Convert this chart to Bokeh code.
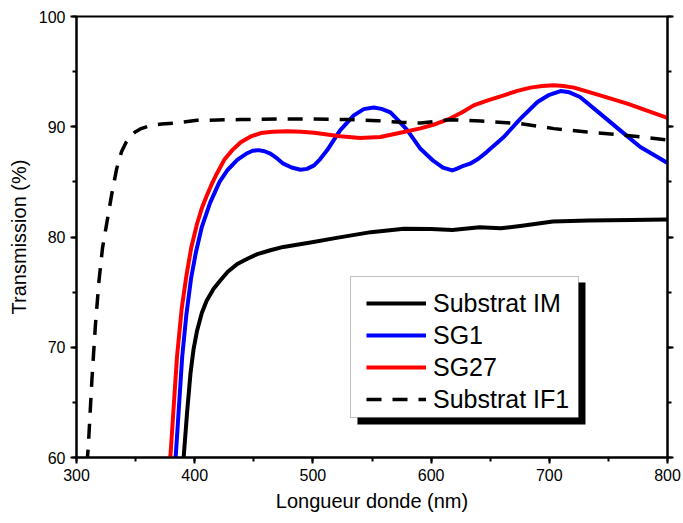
from bokeh.plotting import figure
from bokeh.models import (LinearAxis, Legend, LegendItem, BoxAnnotation, Range1d,
                          CustomJSTickFormatter, FixedTicker)
from bokeh.embed import file_html
from bokeh.resources import INLINE

# ---- data ----
wl_im = [388, 390.8, 393.5, 396.4, 399, 402, 406, 410, 416, 422, 428, 436, 445, 453,
         464, 475, 498, 520, 549, 577, 600, 618, 641, 659, 677, 703, 733, 769, 800]
t_im = [57, 60.2, 64, 67.6, 69.8, 71.5, 73.1, 74.2, 75.3, 76.1, 76.85, 77.55, 78.05,
        78.45, 78.8, 79.1, 79.5, 79.92, 80.44, 80.75, 80.72, 80.64, 80.88, 80.79,
        81.03, 81.4, 81.49, 81.55, 81.58]

wl_sg1 = [381, 384, 389.4, 393, 397, 401, 406, 413, 421, 428, 436, 444.4, 449, 454,
          459, 464, 470, 475, 482, 489.5, 495, 501, 506, 512, 523, 534.6, 543, 551.5,
          558, 565.6, 572, 580, 591, 602, 610, 618, 622, 626, 633, 640, 647, 661.5,
          675.6, 690, 700, 709.5, 717, 726, 743, 760, 777, 794, 800]
t_sg1 = [57, 60.2, 69.1, 73, 76.3, 78.6, 80.9, 83.1, 85.0, 86.1, 87.0, 87.6, 87.82,
         87.88, 87.78, 87.56, 87.1, 86.65, 86.3, 86.1, 86.18, 86.5, 87.05, 87.86,
         89.67, 91.03, 91.6, 91.75, 91.62, 91.3, 90.6, 89.67, 88.0, 86.9, 86.3, 86.04,
         86.2, 86.4, 86.65, 87.1, 87.7, 89.07, 90.74, 92.24, 92.9, 93.24, 93.12, 92.7,
         91.19, 89.67, 88.16, 87.1, 86.7]

wl_sg27 = [376, 379.5, 385, 389, 393, 397, 402, 406, 410, 414, 418, 425, 432, 439, 447,
           456, 466, 478, 490, 501, 512, 523, 540, 557, 574, 591, 604, 616, 626, 636,
           648, 661.5, 673, 684, 694, 704, 712, 721, 743, 766, 788, 800]
t_sg27 = [57, 60.2, 69.1, 73.5, 76.5, 79.0, 81.2, 82.6, 83.7, 84.7, 85.6, 87.0, 87.9,
          88.6, 89.1, 89.43, 89.55, 89.6, 89.55, 89.45, 89.3, 89.13, 88.98, 89.07,
          89.45, 89.85, 90.25, 90.74, 91.3, 91.94, 92.4, 92.85, 93.25, 93.55, 93.7,
          93.76, 93.7, 93.55, 92.85, 92.1, 91.25, 90.8]

wl_if1 = [307, 310, 313, 316, 319, 322, 326, 330, 334, 338, 342, 346, 350, 354, 362,
          372, 385, 402, 438, 470, 500, 530, 555, 575, 591, 616, 642, 676, 704, 732,
          760, 800]
t_if1 = [57, 61, 67, 72, 76, 79, 81.5, 84, 86.2, 87.7, 88.6, 89.2, 89.55, 89.8, 90.1,
         90.25, 90.35, 90.58, 90.65, 90.7, 90.7, 90.65, 90.55, 90.4, 90.34, 90.64,
         90.52, 90.28, 89.83, 89.52, 89.28, 88.8]

x_ticks = [300, 400, 500, 600, 700, 800]
y_ticks = [60, 70, 80, 90, 100]
labels = ["Substrat IM", "SG1", "SG27", "Substrat IF1"]

FONT = "Liberation Sans"

p = figure(width=683, height=523, output_backend="svg", toolbar_location=None,
           x_range=Range1d(300, 800), y_range=Range1d(60, 100),
           min_border_left=76, min_border_right=16, min_border_top=16,
           min_border_bottom=66)
p.background_fill_color = "white"
p.border_fill_color = "white"
p.outline_line_color = "black"
p.outline_line_width = 2
p.xgrid.visible = False
p.ygrid.visible = False

# legend box + shadow (in data units)
shadow = BoxAnnotation(left=537.7, right=730.6, bottom=62.99, top=75.88,
                       fill_color="black", fill_alpha=1.0, line_color=None)
box = BoxAnnotation(left=531.8, right=724.7, bottom=63.63, top=76.42,
                    fill_color="white", fill_alpha=1.0, line_color="#333333",
                    line_width=1)
p.add_layout(shadow)
p.add_layout(box)

lw = 4
r_im = p.line(wl_im, t_im, line_color="black", line_width=lw, line_join="round")
r_sg1 = p.line(wl_sg1, t_sg1, line_color="#0000ff", line_width=lw, line_join="round")
r_sg27 = p.line(wl_sg27, t_sg27, line_color="#ff0000", line_width=lw, line_join="round")
r_if1 = p.line(wl_if1, t_if1, line_color="black", line_width=3.5, line_dash="15 11")

for ax in (p.xaxis[0], p.yaxis[0]):
    ax.axis_line_width = 2
    ax.axis_line_color = "black"
    ax.major_tick_line_width = 2
    ax.minor_tick_line_width = 2
    ax.major_tick_in = 0
    ax.major_tick_out = 6
    ax.minor_tick_in = 0
    ax.minor_tick_out = 4
    ax.major_label_text_font = FONT
    ax.major_label_text_font_size = "16px"
    ax.major_label_text_color = "black"
    ax.axis_label_text_font = FONT
    ax.axis_label_text_font_size = "20px"
    ax.axis_label_text_font_style = "normal"
    ax.axis_label_text_color = "black"
    ax.axis_label_standoff = 6

p.xaxis[0].ticker = FixedTicker(ticks=x_ticks, minor_ticks=list(range(300, 801, 50)))
p.yaxis[0].ticker = FixedTicker(ticks=y_ticks, minor_ticks=list(range(60, 101, 5)))
p.xaxis[0].axis_label = "Longueur donde (nm)"
p.yaxis[0].axis_label = "Transmission (%)"

right = LinearAxis(ticker=FixedTicker(ticks=y_ticks, minor_ticks=list(range(60, 101, 5))),
                   formatter=CustomJSTickFormatter(code="return ''"))
right.axis_line_width = 2
right.major_tick_line_width = 2
right.minor_tick_line_width = 2
right.major_tick_in = 0
right.major_tick_out = 6
right.minor_tick_in = 0
right.minor_tick_out = 4
right.major_label_standoff = 0
p.add_layout(right, "right")

legend = Legend(items=[LegendItem(label=labels[0], renderers=[r_im]),
                       LegendItem(label=labels[1], renderers=[r_sg1]),
                       LegendItem(label=labels[2], renderers=[r_sg27]),
                       LegendItem(label=labels[3], renderers=[r_if1])],
                location=(290, 43), margin=0, padding=0, spacing=2,
                glyph_width=60, glyph_height=30, label_height=30,
                label_standoff=7, label_text_font=FONT,
                label_text_font_size="25px", label_text_color="black",
                border_line_color=None, background_fill_alpha=0.0)
p.add_layout(legend)

open("out.html", "w").write(file_html(p, INLINE))
